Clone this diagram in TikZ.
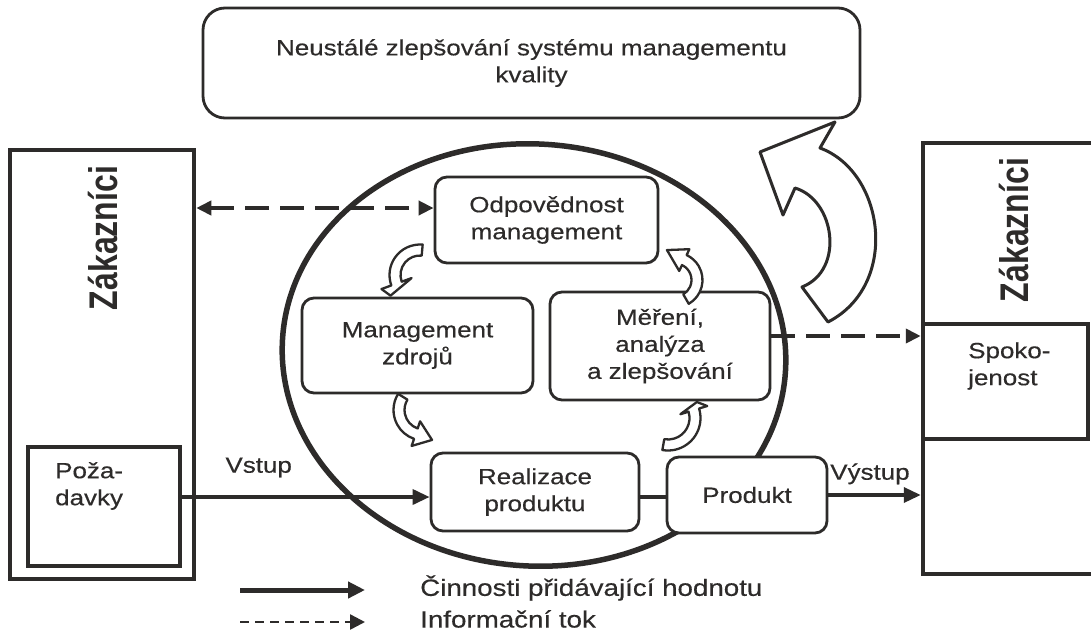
\documentclass[tikz,border=0pt]{standalone}
\usepackage{fontspec}
\setmainfont[FakeStretch=1.18,FakeBold=0.4]{Liberation Sans}
\newfontfamily\zakfont{Liberation Sans}
\usetikzlibrary{arrows.meta,calc}
\definecolor{ink}{RGB}{45,43,42}
\newcommand{\bentarrow}[9]{%
  \draw[hollowarrow] ($(#1,#2)+(#4:#3+#8)$)
    arc[start angle=#4, end angle=#5, radius=#3+#8]
    -- ($(#1,#2)+(#5:#3+#9)$) -- ($(#1,#2)+(#6:#7)$)
    -- ($(#1,#2)+(#5:#3-#9)$) -- ($(#1,#2)+(#5:#3-#8)$)
    arc[start angle=#5, end angle=#4, radius=#3-#8] -- cycle;}
\begin{document}
\begin{tikzpicture}[x=1pt,y=-1pt,
  every node/.style={font=\fontsize{22}{27}\selectfont, text=ink},
  rbox/.style={draw=ink, line width=2.8pt, rounded corners=12pt, fill=white, align=center, inner sep=0pt},
  sbox/.style={draw=ink, line width=4.5pt, fill=white, inner sep=0pt},
  txt/.style={inner sep=0pt, align=left},
  legtxt/.style={inner sep=0pt, align=left, font=\fontsize{23.5}{28}\selectfont},
  zak/.style={rotate=90, anchor=base, inner sep=0pt, font=\zakfont\bfseries\fontsize{32}{32}\selectfont},
  flow/.style={draw=ink, line width=3.5pt, -{Triangle[length=17pt,width=15pt]}},
  info/.style={draw=ink, line width=4pt, dash pattern=on 24pt off 11pt},
  hollowarrow/.style={draw=ink, line width=2.3pt, fill=white, line join=round},
]
\useasboundingbox (0,0) rectangle (1091,632);
\fill[white] (0,0) rectangle (1091,632);

% central ellipse
\draw[ink, line width=5.5pt, rotate around={-4:(534,355)}] (534,355) ellipse [x radius=252, y radius=211];

% top box
\node[rbox, minimum width=657pt, minimum height=110pt, rounded corners=22pt] (top) at (531.5,63) {Neustálé zlepšování systému managementu\\kvality};

% left customers box
\node[sbox, minimum width=184pt, minimum height=429pt] (leftbox) at (102,364.5) {};
\node[zak] (zakL) at (117,238) {\scalebox{1}[1.25]{Zákazníci}};
\node[sbox, line width=3.8pt, minimum width=152pt, minimum height=119pt] (pozad) at (104,506.5) {};
\node[txt, anchor=west] (pozadT) at (55,486) {Poža-\\davky};

% right customers box
\node[sbox, minimum width=182pt, minimum height=431pt] (rightbox) at (1014,358.5) {};
\node[zak] (zakR) at (1028,230) {\scalebox{1}[1.25]{Zákazníci}};
\node[sbox, line width=3.2pt, minimum width=165pt, minimum height=115pt] (spok) at (1005.5,381.5) {};
\node[txt, anchor=west] (spokT) at (968,366) {Spoko-\\jenost};

% process boxes
\node[rbox, minimum width=223pt, minimum height=86pt] (odp) at (546.5,220) {Odpovědnost\\management};
\node[rbox, minimum width=231pt, minimum height=95pt] (mgz) at (417.5,345.5) {Management\\zdrojů};
\node[rbox, minimum width=220pt, minimum height=108pt] (mer) at (660,346) {Měření,\\analýza\\a zlepšování};
\node[rbox, minimum width=208pt, minimum height=78pt] (real) at (535,492) {Realizace\\produktu};
\node[rbox, minimum width=160pt, minimum height=76pt] (prod) at (747,495) {Produkt};

% value adding flow
\coordinate (realin) at ([yshift=-5pt]real.west);
\draw[flow] (pozad.east |- realin) -- node[pos=0.31, above=18pt, inner sep=0pt] (vstup) {Vstup} (realin);
\draw[ink, line width=3.5pt] (realin -| real.east) -- (prod.west |- realin);
\draw[flow] (prod.east) -- node[pos=0.45, above=9pt, inner sep=0pt] (vystup) {Výstup} (rightbox.west |- prod.east);

% information flow
\coordinate (odpin) at ([yshift=12pt]odp.west);
\draw[info, {Triangle[length=15pt,width=14pt]}-{Triangle[length=15pt,width=14pt]}] (leftbox.east |- odpin) -- (odpin);
\coordinate (merout) at ([yshift=10pt]mer.east);
\draw[info, -{Triangle[length=15pt,width=14pt]}] (merout) -- (rightbox.west |- merout);

% small cycle arrows
\bentarrow{420}{275}{25}{275}{160}{145}{36}{5.5}{16}
\bentarrow{424}{410}{25}{212}{109}{75}{31}{5.5}{13}
\bentarrow{668}{418}{27}{100}{-17}{-29}{33}{5.5}{14}
\bentarrow{675}{280}{22}{60}{-65}{-105}{31}{5.5}{12}

% big improvement arrow
\draw[hollowarrow, line width=3pt] (828,322) .. controls (900,285) and (885,172) .. (820,148)
  -- (835,122) -- (760,152) -- (783,215) -- (795,188)
  .. controls (835,200) and (845,270) .. (802,287) -- cycle;

% legend
\coordinate (l1a) at (240,590);
\coordinate (l1b) at (365,590);
\coordinate (l2a) at (240,622);
\coordinate (l2b) at (365,622);
\draw[draw=ink, line width=5pt, -{Triangle[length=17pt,width=16pt]}] (l1a) -- (l1b);
\draw[draw=ink, line width=2.5pt, dash pattern=on 9pt off 6pt, -{Triangle[length=15pt,width=15pt]}] (l2a) -- (l2b);
\node[legtxt, anchor=west] (leg1) at (420,588) {Činnosti přidávající hodnotu};
\node[legtxt, anchor=west] (leg2) at (420,619) {Informační tok};
\end{tikzpicture}
\end{document}
